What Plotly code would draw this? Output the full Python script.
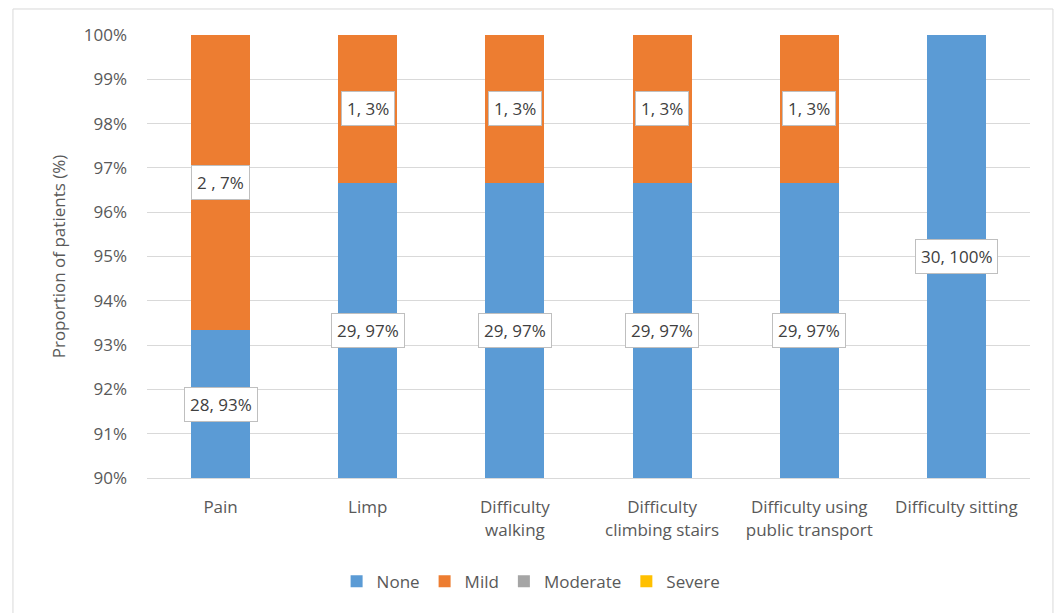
import plotly.graph_objects as go

categories = ['Pain', 'Limp', 'Difficulty<br>walking', 'Difficulty<br>climbing stairs',
              'Difficulty using<br>public transport', 'Difficulty sitting']
total_patients = 30
none_counts = [28, 29, 29, 29, 29, 30]
mild_counts = [2, 1, 1, 1, 1, 0]
moderate_counts = [0, 0, 0, 0, 0, 0]
severe_counts = [0, 0, 0, 0, 0, 0]
none_labels = ['28, 93%', '29, 97%', '29, 97%', '29, 97%', '29, 97%', '30, 100%']
mild_labels = ['2 , 7%', '1, 3%', '1, 3%', '1, 3%', '1, 3%', '']

y_min = 90

font_name = 'Open Sans'
grey_text = '#595959'

series = [
    ('None', none_counts, '#5B9BD5'),
    ('Mild', mild_counts, '#ED7D31'),
    ('Moderate', moderate_counts, '#A5A5A5'),
    ('Severe', severe_counts, '#FFC000'),
]

fig = go.Figure()
for name, counts, color in series:
    fig.add_trace(go.Bar(
        x=categories, y=[c / total_patients * 100 for c in counts], name=name,
        marker=dict(color=color, line=dict(width=0)), width=0.4, hoverinfo='skip'
    ))

# data labels centred on the visible part of each segment
for i, cat in enumerate(categories):
    none_pct = none_counts[i] / total_patients * 100
    mild_pct = mild_counts[i] / total_patients * 100
    segs = [(y_min, none_pct, none_labels[i]), (none_pct, none_pct + mild_pct, mild_labels[i])]
    for lo, hi, txt in segs:
        if not txt:
            continue
        lo_v = max(lo, y_min)
        fig.add_annotation(
            x=cat, y=(lo_v + hi) / 2, text=txt, showarrow=False,
            font=dict(family=font_name, size=17, color='#404040'),
            bgcolor='white', bordercolor='#BFBFBF', borderwidth=1, borderpad=5
        )

# outer chart border (bottom edge runs off the page)
fig.add_shape(type='rect', xref='paper', yref='paper',
              x0=-0.1518, x1=1.026, y0=-0.36, y1=1.0587,
              line=dict(color='#D9D9D9', width=1), fillcolor='rgba(0,0,0,0)', layer='below')

fig.update_layout(
    barmode='stack', width=1058, height=613,
    margin=dict(l=147, r=28, t=35, b=135),
    plot_bgcolor='white', paper_bgcolor='white',
    font=dict(family=font_name, size=17, color=grey_text),
    legend=dict(orientation='h', x=0.435, xanchor='center', y=-0.234, yanchor='middle',
                font=dict(size=17, color=grey_text), itemwidth=30, traceorder='normal'),
    bargap=0.6,
)
fig.update_yaxes(
    range=[y_min, 100], dtick=1, ticksuffix='%', showgrid=True, gridcolor='#D9D9D9',
    zeroline=False, showline=False, ticks='', ticklabelstandoff=19,
    title=dict(text='Proportion of patients (%)', font=dict(size=17, color=grey_text), standoff=13),
    tickfont=dict(size=17, color=grey_text)
)
fig.update_xaxes(showline=True, linecolor='#D9D9D9', ticks='', ticklabelstandoff=14,
                 tickfont=dict(size=17, color=grey_text))

fig.write_html('out.html', config={'displayModeBar': False},
               post_script="document.body.style.margin='0';")
